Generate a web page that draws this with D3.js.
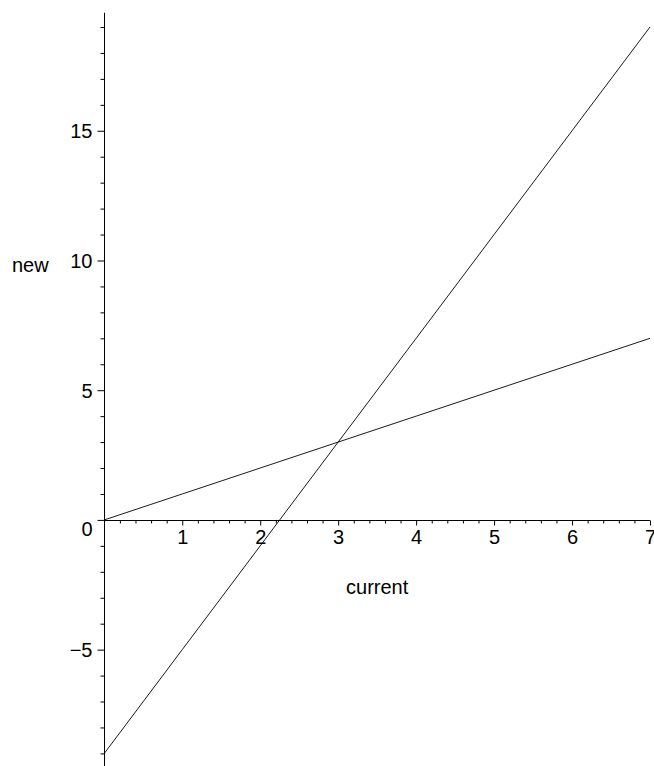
<!DOCTYPE html>
<html>
<head>
<meta charset="utf-8">
<script src="https://cdn.jsdelivr.net/npm/d3@7"></script>
<style>
  html, body { margin: 0; padding: 0; background: #fff; }
  svg { display: block; }
  text { font-family: "Liberation Sans", Arial, Helvetica, sans-serif; fill: #000; }
</style>
</head>
<body>
<svg id="chart" width="654" height="766"></svg>
<script>
// ---- data ----
const xValues  = [0, 1, 2, 3, 4, 5, 6, 7];
const series1  = [0, 1, 2, 3, 4, 5, 6, 7];          // new = current
const series2  = [-9, -5, -1, 3, 7, 11, 15, 19];    // new = 4*current - 9
const xMajorTicks = [1, 2, 3, 4, 5, 6, 7];
const yMajorTicks = [-5, 0, 5, 10, 15];
const xLabel = "current";
const yLabel = "new";

// ---- layout ----
const W = 654, H = 766;
const svg = d3.select("#chart");
const x = d3.scaleLinear().domain([0, 7]).range([104.3, 650]);
const y = d3.scaleLinear().domain([-9, 19]).range([753.4, 27]);

const fontSize = 20;

// minor tick values
const xMinor = d3.range(1, 36).map(i => +(i * 0.2).toFixed(1)).filter(v => !xMajorTicks.includes(v));
const yMinor = d3.range(-9, 20).filter(v => !yMajorTicks.includes(v));

const x0 = Math.round(x(0)) + 0.5;
const y0 = Math.round(y(0)) + 0.5;

// ---- y axis ----
const gy = svg.append("g").attr("transform", `translate(${x0},0)`);
gy.append("line")
  .attr("x1", 0).attr("x2", 0)
  .attr("y1", y(19.55)).attr("y2", y(-9.6))
  .attr("stroke", "#000").attr("stroke-width", 1);

const yMinorAxis = d3.axisLeft(y).tickValues(yMinor).tickSize(4).tickSizeOuter(0).tickFormat("");
const gyMinor = gy.append("g").call(yMinorAxis);
gyMinor.select(".domain").remove();

const yMajorAxis = d3.axisLeft(y).tickValues(yMajorTicks).tickSize(7).tickSizeOuter(0).tickPadding(5)
  .tickFormat(d => d < 0 ? "\u2212" + Math.abs(d) : String(d));
const gyMajor = gy.append("g").call(yMajorAxis);
gyMajor.select(".domain").remove();
gyMajor.selectAll("text")
  .attr("font-size", fontSize)
  .attr("font-family", null)
  .attr("dy", d => d === 0 ? "0.8em" : "0.36em");
gy.selectAll(".tick line").attr("stroke", "#000");

// ---- x axis ----
const gx = svg.append("g").attr("transform", `translate(0,${y0})`);
gx.append("line")
  .attr("x1", x(0)).attr("x2", x(7))
  .attr("y1", 0).attr("y2", 0)
  .attr("stroke", "#000").attr("stroke-width", 1);

const xMinorAxis = d3.axisBottom(x).tickValues(xMinor).tickSize(3).tickSizeOuter(0).tickFormat("");
const gxMinor = gx.append("g").call(xMinorAxis);
gxMinor.select(".domain").remove();

const xMajorAxis = d3.axisBottom(x).tickValues(xMajorTicks).tickSize(5).tickSizeOuter(0).tickPadding(4)
  .tickFormat(d => String(d));
const gxMajor = gx.append("g").call(xMajorAxis);
gxMajor.select(".domain").remove();
gxMajor.selectAll("text")
  .attr("font-size", fontSize)
  .attr("font-family", null)
  .attr("dy", "0.71em");
gx.selectAll(".tick line").attr("stroke", "#000");

// ---- axis titles ----
svg.append("text")
  .attr("x", x(3.5)).attr("y", 594)
  .attr("text-anchor", "middle")
  .attr("font-size", fontSize)
  .text(xLabel);

svg.append("text")
  .attr("x", 12).attr("y", 272)
  .attr("text-anchor", "start")
  .attr("font-size", fontSize)
  .text(yLabel);

// ---- curves ----
const line = d3.line().x((d, i) => x(xValues[i])).y(d => y(d));
[series1, series2].forEach(s => {
  svg.append("path")
    .datum(s)
    .attr("d", line)
    .attr("fill", "none")
    .attr("stroke", "#000")
    .attr("stroke-width", 0.9);
});
</script>
</body>
</html>
